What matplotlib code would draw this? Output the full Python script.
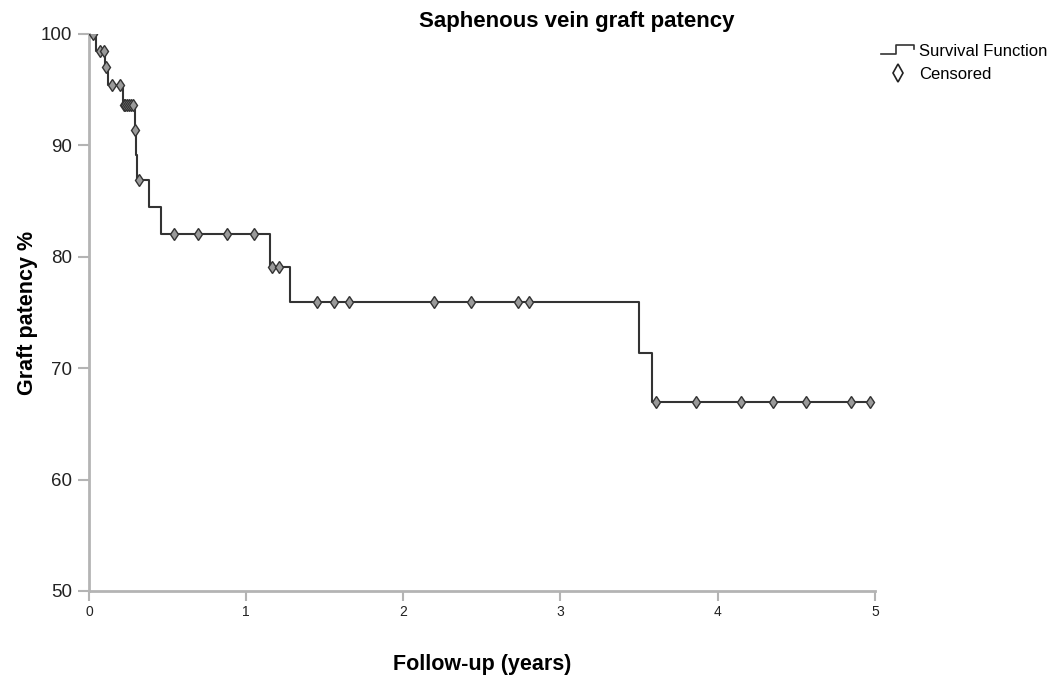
import matplotlib
matplotlib.use("Agg")
import matplotlib.pyplot as plt
from matplotlib.legend_handler import HandlerBase
from matplotlib.lines import Line2D

plt.rcParams['font.family'] = ['Liberation Sans', 'DejaVu Sans']

# Kaplan-Meier step function (time in years, patency % after the event)
step_times = [0.0, 0.045, 0.10, 0.123, 0.214, 0.293, 0.298, 0.303, 0.38, 0.457,
              1.155, 1.28, 3.50, 3.58, 4.99]
step_levels = [100.0, 98.5, 97.0, 95.4, 93.6, 91.4, 89.1, 86.9, 84.5, 82.0,
               79.1, 75.9, 71.4, 67.0, 67.0]

# censored observations
cens_times = [0.027, 0.07, 0.095, 0.11, 0.148, 0.20,
              0.22, 0.232, 0.244, 0.256, 0.268, 0.278, 0.295, 0.318,
              0.541, 0.692, 0.876, 1.05, 1.162, 1.206,
              1.454, 1.556, 1.656, 2.195, 2.432, 2.73, 2.80,
              3.605, 3.865, 4.151, 4.353, 4.565, 4.847, 4.968]
cens_levels = [100.0, 98.5, 98.5, 97.0, 95.4, 95.4,
               93.6, 93.6, 93.6, 93.6, 93.6, 93.6, 91.4, 86.9,
               82.0, 82.0, 82.0, 82.0, 79.1, 79.1,
               75.9, 75.9, 75.9, 75.9, 75.9, 75.9, 75.9,
               67.0, 67.0, 67.0, 67.0, 67.0, 67.0, 67.0]

x_ticks = [0, 1, 2, 3, 4, 5]
y_ticks = [50, 60, 70, 80, 90, 100]

line_col = '#333333'
axis_col = '#b4b4b4'


class StepHandler(HandlerBase):
    # legend key drawn as a small step
    def create_artists(self, legend, orig, xd, yd, w, h, fontsize, trans):
        xs = [xd, xd + w * 0.45, xd + w * 0.45, xd + w, xd + w]
        ys = [yd + h * 0.1, yd + h * 0.1, yd + h * 0.95, yd + h * 0.95, yd + h * 0.55]
        ln = Line2D(xs, ys, color=line_col, lw=1.2, transform=trans)
        return [ln]


fig = plt.figure(figsize=(10.64, 6.8), dpi=100)
ax = fig.add_axes([0.0836, 0.131, 0.7386, 0.819])

surv, = ax.step(step_times, step_levels, where='post', color=line_col, lw=1.5,
                label='Survival Function', zorder=3)
cens, = ax.plot(cens_times, cens_levels, ls='none', marker='d', ms=6.5, mew=1.0,
                mfc='#9a9a9a', mec=line_col, label='Censored', zorder=4)

ax.set_xlim(0, 5)
ax.set_ylim(50, 100)
ax.set_xticks(x_ticks)
ax.set_yticks(y_ticks)
ax.tick_params(axis='y', labelsize=13.5, colors=axis_col, labelcolor='#222222',
               length=8, width=1.5, pad=4)
ax.tick_params(axis='x', labelsize=10, colors=axis_col, labelcolor='#222222',
               length=7, width=1.5, pad=3)
for side in ['top', 'right']:
    ax.spines[side].set_visible(False)
for side in ['left', 'bottom']:
    ax.spines[side].set_color(axis_col)
    ax.spines[side].set_linewidth(2)

ax.set_xlabel('Follow-up (years)', fontsize=15.5, fontweight='bold', labelpad=25)
ax.set_ylabel('Graft patency %', fontsize=15.5, fontweight='bold', labelpad=2)
fig.text(0.542, 0.968, 'Saphenous vein graft patency', fontsize=16,
         fontweight='bold', ha='center', va='center')

hollow = Line2D([], [], ls='none', marker='d', ms=9, mfc='white', mec='#222222', mew=1.2)
fig.legend([surv, hollow], ['Survival Function', 'Censored'],
           handler_map={surv: StepHandler()},
           loc='upper left', bbox_to_anchor=(0.817, 0.953), frameon=False,
           fontsize=12, handlelength=2.0, handletextpad=0.3, labelspacing=0.5,
           borderpad=0.2)

fig.savefig('out.png', dpi=100)
